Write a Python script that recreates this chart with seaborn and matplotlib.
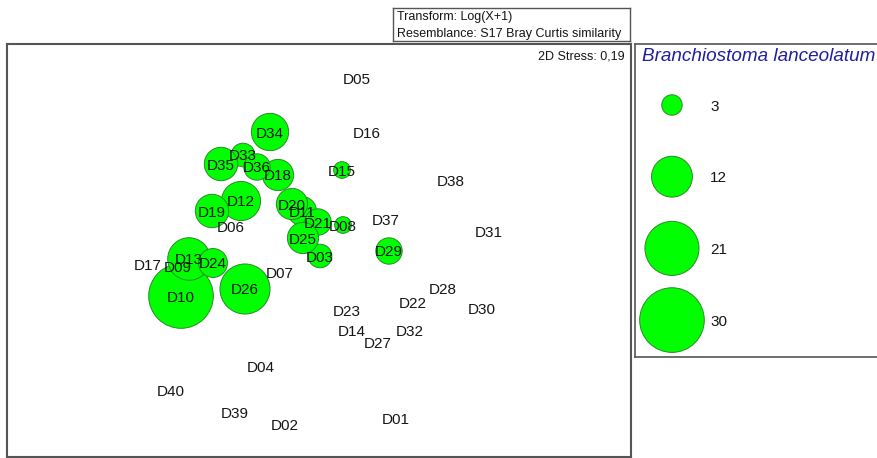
import numpy as np
import pandas as pd
import matplotlib
matplotlib.use("Agg")
import matplotlib.pyplot as plt
import seaborn as sns

# ---------------- data ----------------
sites = ["D01", "D02", "D03", "D04", "D05", "D06", "D07", "D08", "D09", "D10",
         "D11", "D12", "D13", "D14", "D15", "D16", "D17", "D18", "D19", "D20",
         "D21", "D22", "D23", "D24", "D25", "D26", "D27", "D28", "D29", "D30",
         "D31", "D32", "D33", "D34", "D35", "D36", "D37", "D38", "D39", "D40"]
mds1 = [0.76, -0.35, 0.00, -0.59, 0.37, -0.89, -0.40, 0.23, -1.42, -1.39,
        -0.18, -0.79, -1.31, 0.32, 0.22, 0.47, -1.72, -0.42, -1.08, -0.28,
        -0.02, 0.93, 0.27, -1.07, -0.17, -0.75, 0.58, 1.23, 0.69, 1.62,
        1.69, 0.90, -0.77, -0.50, -0.99, -0.63, 0.66, 1.31, -0.85, -1.49]
mds2 = [-1.69, -1.75, -0.06, -1.17, 1.72, 0.24, -0.22, 0.25, -0.17, -0.46,
        0.39, 0.49, -0.09, -0.81, 0.80, 1.17, -0.15, 0.75, 0.39, 0.46,
        0.28, -0.53, -0.60, -0.13, 0.12, -0.39, -0.93, -0.39, -0.01, -0.58,
        0.19, -0.81, 0.95, 1.18, 0.86, 0.83, 0.31, 0.69, -1.63, -1.41]
abundance = [0, 0, 4, 0, 0, 0, 0, 2, 0, 30,
             6, 11, 13, 0, 2, 0, 0, 7, 8, 7,
             5, 0, 0, 6, 7, 18, 0, 0, 5, 0,
             0, 0, 4, 10, 8, 5, 0, 0, 0, 0]
legend_values = [3, 12, 21, 30]
stress_text = "2D Stress: 0,19"
info_lines = ["Transform: Log(X+1)", "Resemblance: S17 Bray Curtis similarity"]
species = "Branchiostoma lanceolatum"

df = pd.DataFrame({"site": sites, "MDS1": mds1, "MDS2": mds2, "n": abundance})
bub = df[df["n"] > 0]
leg = pd.DataFrame({"val": legend_values, "x": [0.0] * len(legend_values),
                    "y": list(range(len(legend_values)))})

# ---------------- style ----------------
sns.set_theme(style="white")
plt.rcParams["font.family"] = ["Liberation Sans", "DejaVu Sans"]

W, H = 877, 458
fig = plt.figure(figsize=(W / 100, H / 100), dpi=100)
fig.patch.set_facecolor("white")

def px_axes(x0, y0, x1, y1):
    return fig.add_axes([x0 / W, 1 - y1 / H, (x1 - x0) / W, (y1 - y0) / H])

GREEN = "#00ff00"
EDGE = "#2a8a2a"
SMAX = 72.2 * 30
SPINE = "#555555"

# ---------------- main ordination panel ----------------
ax = px_axes(7, 44, 631, 457)
sns.scatterplot(data=bub, x="MDS1", y="MDS2", size="n", sizes=(0, SMAX),
                size_norm=(0, 30), color=GREEN, edgecolor=EDGE, linewidth=0.7,
                alpha=1, legend=False, ax=ax, zorder=2)
for site, x, y in zip(sites, mds1, mds2):
    ax.text(x, y, site, ha="center", va="center_baseline",
            fontsize=11, color="#151515", zorder=3)
ax.set_xlim(-3.13, 3.11)
ax.set_ylim(-2.07, 2.06)
ax.set_xticks([]); ax.set_yticks([])
ax.set_xlabel(""); ax.set_ylabel("")
for s in ax.spines.values():
    s.set_color(SPINE); s.set_linewidth(1.5); s.set_visible(True)
ax.text(0.990, 0.973, stress_text, transform=ax.transAxes, ha="right",
        va="center_baseline", fontsize=9, color="#151515")

# ---------------- info box ----------------
ib = px_axes(393, 8, 630, 41)
ib.set_xticks([]); ib.set_yticks([])
for s in ib.spines.values():
    s.set_color(SPINE); s.set_linewidth(1.0); s.set_visible(True)
for txt, yy in zip(info_lines, [0.77, 0.27]):
    ib.text(0.017, yy, txt, transform=ib.transAxes, ha="left",
            va="center_baseline", fontsize=9, color="#151515")

# ---------------- bubble legend ----------------
lg = px_axes(635, 44, 890, 357)
sns.scatterplot(data=leg, x="x", y="y", size="val", sizes=(0, SMAX),
                size_norm=(0, 30), color=GREEN, edgecolor=EDGE, linewidth=0.7,
                alpha=1, legend=False, ax=lg, zorder=2)
lg.set_xlim(-0.145, 1 - 0.145)
lg.set_ylim(3.515, -0.851)
for i, v in enumerate(legend_values):
    lg.text(0.294 - 0.145, i, str(v), ha="left",
            va="center_baseline", fontsize=11, color="#151515", zorder=3)
lg.text(0.027, 0.965, species, transform=lg.transAxes, ha="left",
        va="center_baseline", fontsize=13.6, style="italic", color="#1f1fa0")
lg.set_xticks([]); lg.set_yticks([])
lg.set_xlabel(""); lg.set_ylabel("")
for s in lg.spines.values():
    s.set_color(SPINE); s.set_linewidth(1.2); s.set_visible(True)

fig.savefig("out.png", dpi=100, facecolor="white")
